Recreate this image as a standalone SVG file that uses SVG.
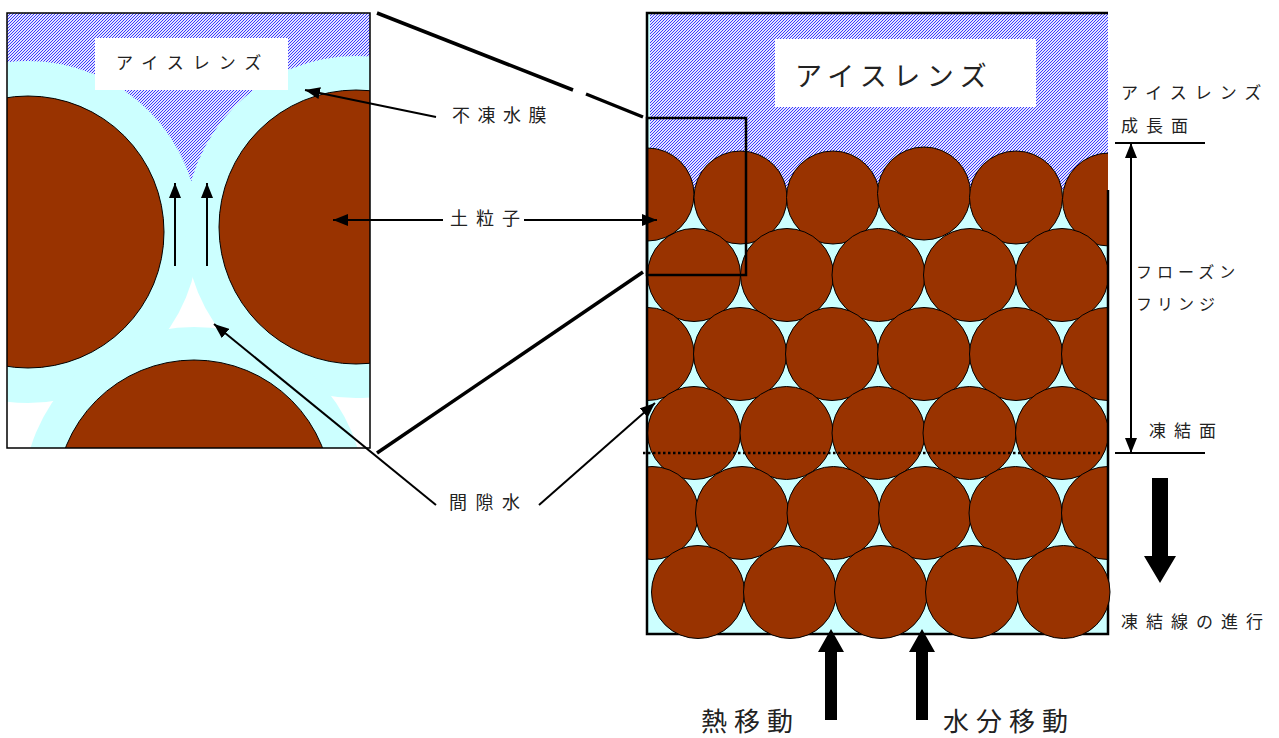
<svg xmlns="http://www.w3.org/2000/svg" width="1279" height="738" viewBox="0 0 1279 738">
  <defs>
    <style>
      .lbl { font-family: "Noto Sans CJK JP", "Noto Sans", sans-serif; fill: #222; }
      .s17 { font-size: 17px; letter-spacing: 8px; }
      .s18 { font-size: 18px; letter-spacing: 8px; }
      .big { font-size: 27px; letter-spacing: 6.5px; }
      .grain { fill: #993300; stroke: #000; stroke-width: 1; }
      .film { fill: #CCFFFF; }
      .leader { stroke: #000; stroke-width: 2; fill: none; }
      .link { stroke: #000; stroke-width: 3.5; fill: none; }
      .frame { stroke: #000; fill: none; }
    </style>
    <!-- crisp diagonal hatch for ice -->
    <pattern id="ice" patternUnits="userSpaceOnUse" width="3" height="3">
      <rect width="3" height="3" fill="#e4e4ff" shape-rendering="crispEdges"/>
      <g fill="#3a3aff" shape-rendering="crispEdges">
        <rect x="0" y="2" width="1" height="1"/>
        <rect x="1" y="1" width="1" height="1"/>
        <rect x="2" y="0" width="1" height="1"/>
      </g>
    </pattern>
    <marker id="tip" markerUnits="userSpaceOnUse" markerWidth="16" markerHeight="12" refX="15" refY="6" orient="auto">
      <path d="M0,0 L15,6 L0,12 z" fill="#000"/>
    </marker>
    <clipPath id="clipL">
      <rect x="7" y="13" width="363" height="435"/>
    </clipPath>
    <clipPath id="clipR">
      <rect x="648" y="13" width="460" height="630"/>
    </clipPath>
  </defs>

  <!-- enlarged view: three grains with water film -->
  <g id="detail">
    <g clip-path="url(#clipL)">
      <rect x="7" y="13" width="363" height="435" fill="#fff"/>
      <rect x="7" y="13" width="363" height="190" fill="url(#ice)"/>
      <circle class="film" cx="28" cy="232" r="171"/>
      <circle class="film" cx="356" cy="227" r="171"/>
      <circle class="film" cx="194" cy="498" r="171"/>
      <circle class="grain" cx="28" cy="232" r="136"/>
      <circle class="grain" cx="356" cy="227" r="137"/>
      <circle class="grain" cx="194" cy="498" r="138"/>
    </g>
    <rect class="frame" x="7" y="13" width="363" height="435" stroke-width="1.5"/>
    <g id="detail-lens">
      <rect x="95" y="38" width="193" height="52" fill="#fff"/>
      <text class="lbl s17" x="116" y="69" style="letter-spacing:9px">アイスレンズ</text>
    </g>
    <g id="detail-flow">
      <line class="leader" x1="175" y1="266" x2="175" y2="183" marker-end="url(#tip)"/>
      <line class="leader" x1="207" y1="266" x2="207" y2="183" marker-end="url(#tip)"/>
    </g>
  </g>

  <!-- soil column -->
  <g id="column">
    <rect x="647" y="13" width="461" height="621" fill="#CCFFFF"/>
    <rect x="650" y="13" width="458" height="177" fill="url(#ice)"/>
    <g clip-path="url(#clipR)">
      <circle class="grain" cx="647.5" cy="194.5" r="46.5"/>
      <circle class="grain" cx="740.5" cy="197.5" r="46.5"/>
      <circle class="grain" cx="833" cy="197.5" r="46.5"/>
      <circle class="grain" cx="924" cy="193.5" r="46.5"/>
      <circle class="grain" cx="1016" cy="197.5" r="46.5"/>
      <circle class="grain" cx="1109" cy="199.5" r="46.5"/>

      <circle class="grain" cx="694" cy="275" r="46.5"/>
      <circle class="grain" cx="787" cy="275" r="46.5"/>
      <circle class="grain" cx="878.5" cy="275" r="46.5"/>
      <circle class="grain" cx="970" cy="275" r="46.5"/>
      <circle class="grain" cx="1062" cy="275" r="46.5"/>

      <circle class="grain" cx="647.5" cy="354" r="46.5"/>
      <circle class="grain" cx="740" cy="354" r="46.5"/>
      <circle class="grain" cx="832" cy="354" r="46.5"/>
      <circle class="grain" cx="924" cy="354" r="46.5"/>
      <circle class="grain" cx="1016" cy="354" r="46.5"/>
      <circle class="grain" cx="1108" cy="354" r="46.5"/>

      <circle class="grain" cx="694" cy="433" r="46.5"/>
      <circle class="grain" cx="786.5" cy="433" r="46.5"/>
      <circle class="grain" cx="878.5" cy="433" r="46.5"/>
      <circle class="grain" cx="969.5" cy="433" r="46.5"/>
      <circle class="grain" cx="1062" cy="433" r="46.5"/>

      <circle class="grain" cx="652" cy="513" r="46.5"/>
      <circle class="grain" cx="742" cy="513" r="46.5"/>
      <circle class="grain" cx="833.5" cy="513" r="46.5"/>
      <circle class="grain" cx="925" cy="513" r="46.5"/>
      <circle class="grain" cx="1015.5" cy="513" r="46.5"/>
      <circle class="grain" cx="1108" cy="513" r="46.5"/>
    </g>
    <path class="frame" d="M1108,190 L1108,634 L647,634 L647,13 L1108,13" stroke-width="2.5"/>
    <circle class="grain" cx="698" cy="592" r="46.5"/>
    <circle class="grain" cx="790" cy="592" r="46.5"/>
    <circle class="grain" cx="881" cy="592" r="46.5"/>
    <circle class="grain" cx="972" cy="592" r="46.5"/>
    <circle class="grain" cx="1063.5" cy="592" r="46.5"/>
    <g id="column-lens">
      <rect x="775" y="39" width="261" height="68" fill="#fff"/>
      <text class="lbl big" x="795" y="86">アイスレンズ</text>
    </g>
    <line id="freezing-line" x1="643" y1="453" x2="1100" y2="453" stroke="#000" stroke-width="2.5" stroke-dasharray="2.5 2.5"/>
    <rect id="zoom-frame" class="frame" x="647" y="118" width="99" height="157" stroke-width="2.5"/>
  </g>

  <!-- connectors -->
  <g id="connectors">
    <line class="link" x1="377" y1="13" x2="573" y2="90"/>
    <line class="link" x1="586" y1="94" x2="643" y2="117"/>
    <line class="link" x1="377" y1="453" x2="643" y2="272"/>

    <line class="leader" x1="436" y1="117" x2="305" y2="90" marker-end="url(#tip)"/>
    <line class="leader" x1="443" y1="220" x2="333" y2="220" marker-end="url(#tip)"/>
    <line class="leader" x1="524" y1="220" x2="657" y2="220" marker-end="url(#tip)"/>
    <line class="leader" x1="436" y1="505" x2="214" y2="324" marker-end="url(#tip)"/>
    <line class="leader" x1="539" y1="505" x2="655" y2="403" marker-end="url(#tip)"/>

    <line class="leader" x1="1115" y1="143" x2="1205" y2="143"/>
    <line class="leader" x1="1115" y1="453" x2="1205" y2="453"/>
    <line class="leader" x1="1131" y1="298" x2="1131" y2="143" marker-end="url(#tip)"/>
    <line class="leader" x1="1131" y1="298" x2="1131" y2="453" marker-end="url(#tip)"/>

    <path d="M1152,478 H1168 V556 H1176 L1160,583 L1144,556 H1152 Z" fill="#000"/>
    <path d="M825,720 H837 V652 H844 L831,629 L818,652 H825 Z" fill="#000"/>
    <path d="M916,720 H928 V652 H935 L922,629 L909,652 H916 Z" fill="#000"/>
  </g>

  <!-- labels -->
  <g id="labels">
    <g id="label-film"><text class="lbl s18" x="452" y="122" style="letter-spacing:7.5px">不凍水膜</text></g>
    <g id="label-grain"><text class="lbl s18" x="450" y="225">土粒子</text></g>
    <g id="label-pore"><text class="lbl s18" x="449" y="509" style="letter-spacing:8.5px">間隙水</text></g>
    <g id="label-growth">
      <text class="lbl s17" x="1121" y="98.5">アイスレンズ</text>
      <text class="lbl s17" x="1121" y="132">成長面</text>
    </g>
    <g id="label-fringe">
      <text class="lbl" x="1136" y="278" style="font-size:16px;letter-spacing:5px">フローズン</text>
      <text class="lbl" x="1136" y="310" style="font-size:16px;letter-spacing:5px">フリンジ</text>
    </g>
    <g id="label-front"><text class="lbl s17" x="1149" y="436.5">凍結面</text></g>
    <g id="label-advance"><text class="lbl s17" x="1121" y="628">凍結線の進行</text></g>
    <g id="label-heat"><text class="lbl" x="701" y="731" style="font-size:26px;letter-spacing:7px">熱移動</text></g>
    <g id="label-water"><text class="lbl" x="943" y="731" style="font-size:26px;letter-spacing:7px">水分移動</text></g>
  </g>
</svg>
